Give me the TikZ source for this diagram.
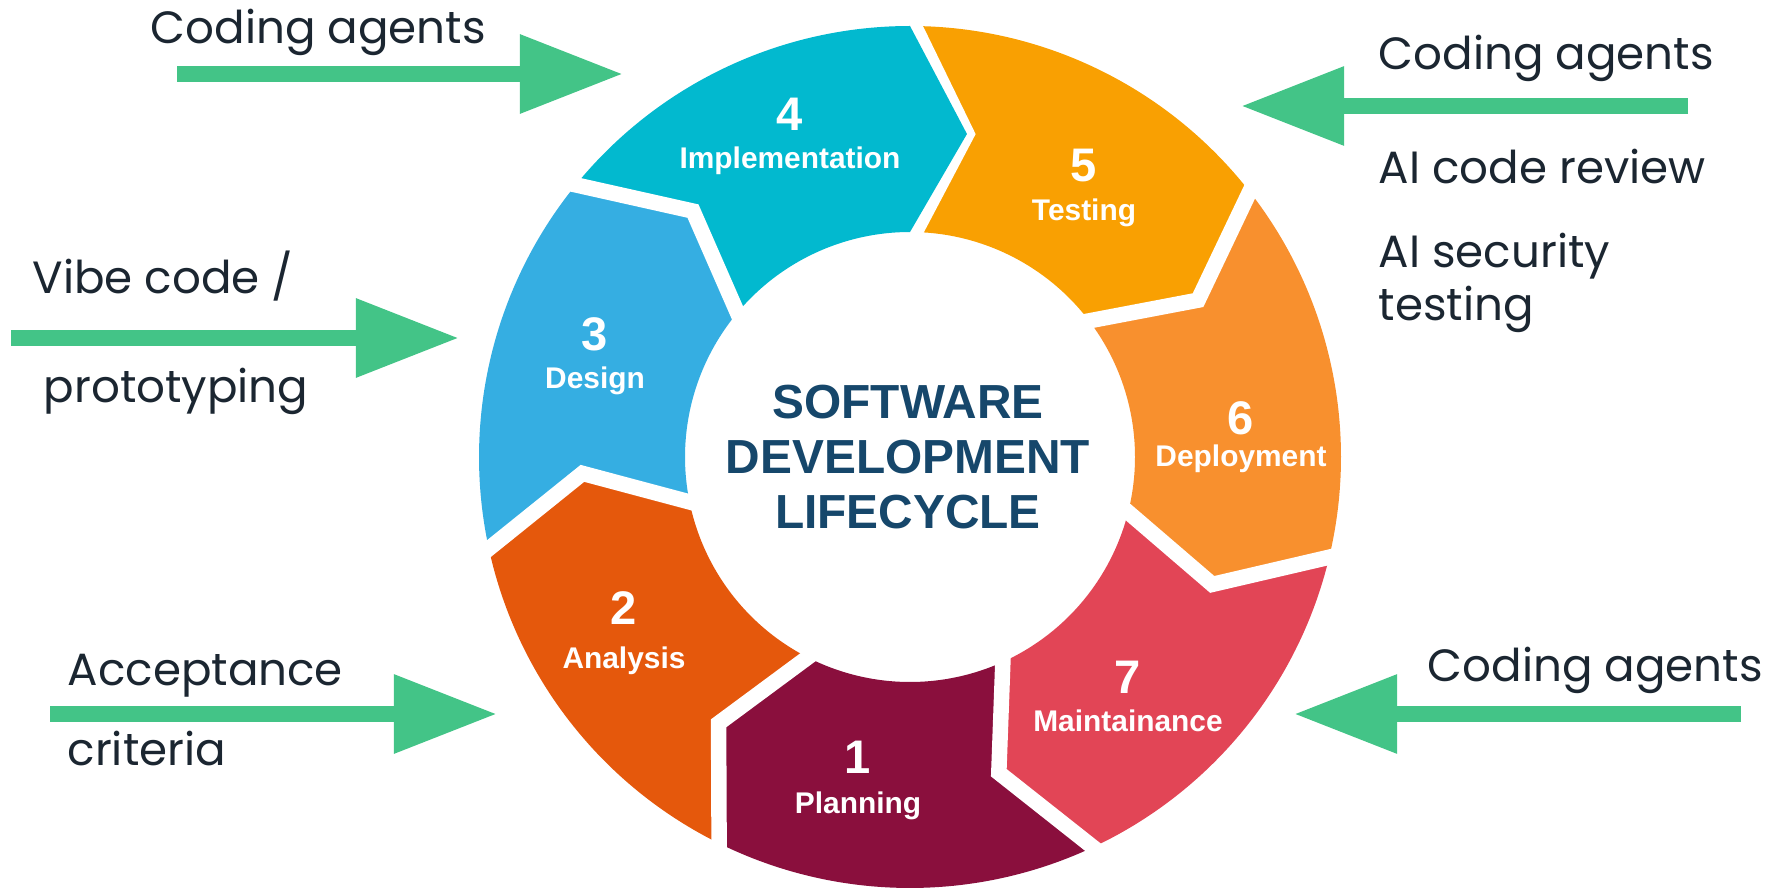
\documentclass[tikz,border=0pt]{standalone}
\usepackage{fontspec}
\setmainfont{Poppins}
\newfontfamily\segfont{Liberation Sans}
\newfontfamily\ctrfont{Liberation Sans}
\usetikzlibrary{arrows.meta}
\definecolor{plan}{HTML}{8A0F3D}
\definecolor{anal}{HTML}{E5580C}
\definecolor{desg}{HTML}{35AEE2}
\definecolor{impl}{HTML}{02B9CF}
\definecolor{test}{HTML}{F9A002}
\definecolor{depl}{HTML}{F8902E}
\definecolor{mant}{HTML}{E24556}
\definecolor{navy}{HTML}{16476B}
\definecolor{agent}{HTML}{43C487}
\definecolor{ink}{HTML}{1B2631}

\begin{document}
\begin{tikzpicture}[x=0.01cm,y=-0.01cm,
    note/.style={anchor=base west,inner sep=0pt,text=ink,font=\fontsize{12.85pt}{15pt}\selectfont},
    fat/.style={draw=agent,line width=4.6pt,-{Triangle[length=29.3pt,width=21.3pt]}},
    num/.style={anchor=base,inner sep=0pt,text=white,font=\segfont\bfseries\fontsize{13.4pt}{16pt}\selectfont},
    phase/.style={anchor=base,inner sep=0pt,text=white,font=\segfont\bfseries\fontsize{8.5pt}{10pt}\selectfont},
    gap/.style={draw=white,line width=4.4pt}]
  \useasboundingbox (0,0) rectangle (1770,888);
  \begin{scope}[shift={(910,457)},yscale=-1]
    \foreach \a/\c in {90/test,38.57/depl,-12.86/mant,-64.29/plan,-115.71/anal,-167.14/desg,141.43/impl}{
      \pgfmathsetmacro\b{\a-51.43}
      \fill[\c] (\a:431) arc[start angle=\a,end angle=\b,radius=431] -- (\b-10:328) -- (\b:225)
        arc[start angle=\b,end angle=\a,radius=225] -- (\a-10:328) -- cycle;
      \draw[gap] (\a:215) -- (\a-10:328) -- (\a:440);
    }
    \node (ctr) [align=center,text=navy,font=\ctrfont\bfseries\fontsize{13.6pt}{15.6pt}\selectfont]
      at (-2,0) {SOFTWARE\\DEVELOPMENT\\LIFECYCLE};
  \end{scope}
  \foreach \n/\t/\x/\y/\z in {1/Planning/858/773/813,2/Analysis/624/624/668,3/Design/595/350/388,
      4/Implementation/790/131/169,5/Testing/1084/182/220,6/Deployment/1241/434/466,7/Maintainance/1128/693/731}{
    \node (n\n) [num] at (\x,\y) {\n};
    \node (l\n) [phase] at (\x,\z) {\t};
  }
  \node (ca1) [note] at (150,44) {Coding agents};
  \node (vib) [note] at (32,293) {Vibe code /};
  \node (pro) [note] at (43,402) {prototyping};
  \node (acc) [note] at (67,685) {Acceptance};
  \node (cri) [note] at (67,765) {criteria};
  \node (ca2) [note] at (1378,70) {Coding agents};
  \node (rev) [note] at (1378,183) {AI code review};
  \node (sec) [note] at (1378,267) {AI security};
  \node (tst) [note] at (1378,320) {testing};
  \node (ca3) [note] at (1427,681) {Coding agents};
  \coordinate (s1) at (177,74);   \coordinate (e1) at (623,74);
  \coordinate (s2) at (11,338);   \coordinate (e2) at (459,338);
  \coordinate (s3) at (50,714);   \coordinate (e3) at (497,714);
  \coordinate (s4) at (1688,106); \coordinate (e4) at (1241,106);
  \coordinate (s5) at (1741,714); \coordinate (e5) at (1294,714);
  \foreach \i in {1,...,5} \draw[fat] (s\i) -- (e\i);
\end{tikzpicture}
\end{document}
